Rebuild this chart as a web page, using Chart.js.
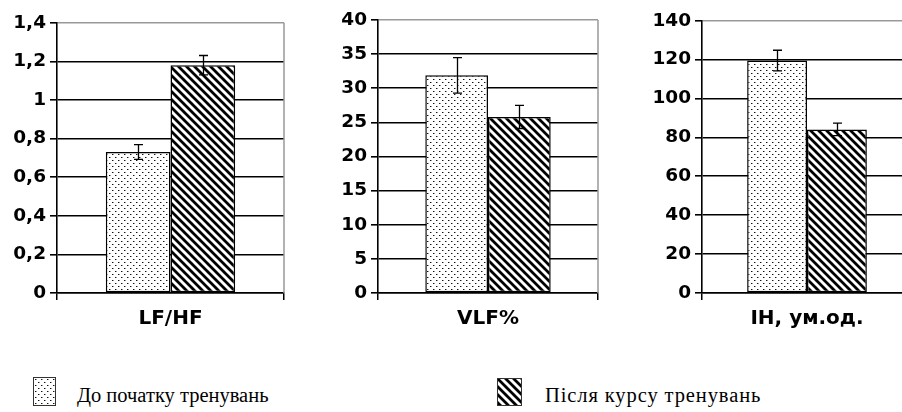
<!DOCTYPE html>
<html><head><meta charset="utf-8">
<script src="https://cdn.jsdelivr.net/npm/chart.js@4.4.0/dist/chart.umd.min.js"></script>
<style>
html,body{margin:0;padding:0;background:#fff;width:902px;height:412px;overflow:hidden;position:relative;}
.panel{position:absolute;top:0;}
.legend-item{position:absolute;font-family:"Liberation Serif","Times New Roman",serif;font-size:20.5px;color:#000;white-space:nowrap;line-height:1;}
.sw{position:absolute;border:1px solid #333;}
</style></head><body>
<canvas id="c0" class="panel" width="300" height="340" style="left:0px"></canvas>
<canvas id="c1" class="panel" width="300" height="340" style="left:300px"></canvas>
<canvas id="c2" class="panel" width="320" height="340" style="left:600px"></canvas>
<canvas id="sw0" class="sw" width="21" height="27" style="left:33px;top:377px"></canvas>
<canvas id="sw1" class="sw" width="23" height="26" style="left:497px;top:378px"></canvas>
<div class="legend-item" id="lg0" style="left:77px;top:385px"></div>
<div class="legend-item" id="lg1" style="left:545px;top:385px;letter-spacing:0.9px"></div>
<script>
// ---- data ----
const categories = ['LF/HF', 'VLF%', 'IH, ум.од.'];
const seriesNames = ['До початку тренувань', 'Після курсу тренувань'];
const beforeValues = [0.73, 31.9, 119.5];
const afterValues = [1.18, 25.8, 84.1];
const beforeErrors = [0.038, 2.6, 5.3];
const afterErrors = [0.05, 1.7, 3.2];
const yMax = [1.4, 40, 140];
const yStep = [0.2, 5, 20];

// ---- patterns ----
function dotPattern(ctx) {
  const c = document.createElement('canvas'); c.width = 6; c.height = 6;
  const g = c.getContext('2d');
  g.fillStyle = '#fff'; g.fillRect(0, 0, 6, 6);
  g.fillStyle = '#111';
  g.fillRect(1, 1, 1, 1); g.fillRect(4, 4, 1, 1);
  g.fillStyle = '#999';
  g.fillRect(2, 1, 1, 1); g.fillRect(5, 4, 1, 1);
  return ctx.createPattern(c, 'repeat');
}
function hatchPattern(ctx) {
  const s = 8;
  const c = document.createElement('canvas'); c.width = s; c.height = s;
  const g = c.getContext('2d');
  g.fillStyle = '#fff'; g.fillRect(0, 0, s, s);
  g.strokeStyle = '#000'; g.lineWidth = 2.8;
  g.beginPath();
  g.moveTo(-2, -2); g.lineTo(s + 2, s + 2);
  g.moveTo(-2, s - 2); g.lineTo(2, s + 2);
  g.moveTo(s - 2, -2); g.lineTo(s + 2, 2);
  g.stroke();
  return ctx.createPattern(c, 'repeat');
}

const errorBars = {
  id: 'errorBars',
  afterDatasetsDraw(chart) {
    const ctx = chart.ctx, ys = chart.scales.y;
    ctx.save();
    ctx.strokeStyle = '#000'; ctx.lineWidth = 1.3;
    chart.data.datasets.forEach((ds, di) => {
      const meta = chart.getDatasetMeta(di);
      meta.data.forEach((bar, j) => {
        const v = ds.data[j], e = ds.errors[j];
        const t = ys.getPixelForValue(v + e), b = ys.getPixelForValue(v - e);
        const x = Math.round(bar.x) + 0.5;
        ctx.beginPath();
        ctx.moveTo(x, t); ctx.lineTo(x, b);
        ctx.moveTo(x - 4.5, t); ctx.lineTo(x + 4.5, t);
        ctx.moveTo(x - 4.5, b); ctx.lineTo(x + 4.5, b);
        ctx.stroke();
      });
    });
    ctx.restore();
  }
};
const frame = {
  id: 'frame',
  beforeDatasetsDraw(chart) {
    const a = chart.chartArea, ctx = chart.ctx;
    ctx.save();
    ctx.strokeStyle = '#999'; ctx.lineWidth = 1.5;
    ctx.beginPath(); ctx.moveTo(a.right, a.top); ctx.lineTo(a.right, a.bottom); ctx.stroke();
    ctx.restore();
  }
};

const tickFont = { family: 'DejaVu Sans', weight: 'bold', size: 18.5 };
const labelFont = { family: 'DejaVu Sans', weight: 'bold', size: 20 };

function makeChart(i, id, yWidth, padTop, padRight) {
  const cv = document.getElementById(id);
  const ctx = cv.getContext('2d');
  new Chart(cv, {
    type: 'bar',
    data: {
      labels: [categories[i]],
      datasets: [
        { label: seriesNames[0], data: [beforeValues[i]], errors: [beforeErrors[i]],
          backgroundColor: dotPattern(ctx), borderColor: '#000', borderWidth: 1.5, borderSkipped: false },
        { label: seriesNames[1], data: [afterValues[i]], errors: [afterErrors[i]],
          backgroundColor: hatchPattern(ctx), borderColor: '#000', borderWidth: 1.5, borderSkipped: false }
      ]
    },
    options: {
      responsive: false, animation: false, events: [],
      layout: { padding: { top: padTop, right: padRight, left: 0, bottom: 0 } },
      plugins: { legend: { display: false }, tooltip: { enabled: false } },
      datasets: { bar: { categoryPercentage: 0.57, barPercentage: 1 } },
      scales: {
        x: {
          grid: { display: true, drawOnChartArea: false, drawTicks: true, tickLength: 7, tickColor: '#000', lineWidth: 1.5 },
          border: { color: '#000', width: 1.5 },
          ticks: { font: labelFont, color: '#000', padding: 7 },
          afterFit: (s) => { s.height = 47; }
        },
        y: {
          min: 0, max: yMax[i],
          ticks: { stepSize: yStep[i], font: tickFont, color: '#000', padding: 4,
            callback: (v) => String(Math.round(v * 100) / 100).replace('.', ',') },
          grid: { color: (c) => (c.tick && Math.abs(c.tick.value - yMax[i]) < 1e-9) ? '#999' : '#000',
            lineWidth: 1.6, tickLength: 7, tickColor: '#000' },
          border: { color: '#000', width: 1.6 },
          afterFit: (s) => { s.width = yWidth; }
        }
      }
    },
    plugins: [frame, errorBars]
  });
}
makeChart(0, 'c0', 57, 22.7, 16);
makeChart(1, 'c1', 78, 20, 2);
makeChart(2, 'c2', 102, 20.7, 8);

// legend
const s0 = document.getElementById('sw0').getContext('2d');
s0.fillStyle = dotPattern(s0); s0.fillRect(0, 0, 21, 27);
const s1 = document.getElementById('sw1').getContext('2d');
s1.fillStyle = hatchPattern(s1); s1.fillRect(0, 0, 23, 26);
document.getElementById('lg0').textContent = seriesNames[0];
document.getElementById('lg1').textContent = seriesNames[1];
</script>
</body></html>
